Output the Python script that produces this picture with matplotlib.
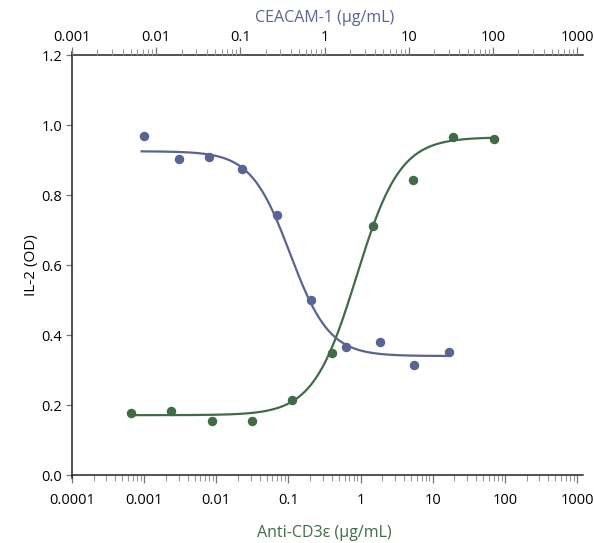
import matplotlib
matplotlib.use("Agg")
import matplotlib.pyplot as plt
import numpy as np
from matplotlib.ticker import LogLocator, FixedLocator, FuncFormatter, NullFormatter

plt.rcParams['font.family'] = ['Open Sans', 'DejaVu Sans']

# CEACAM-1 titration (top axis), ug/mL vs IL-2 OD
ceacam_conc = [0.0072, 0.0187, 0.042, 0.105, 0.27, 0.684, 1.80, 4.55, 11.7, 30.3]
ceacam_od = [0.969, 0.902, 0.908, 0.875, 0.743, 0.500, 0.365, 0.379, 0.314, 0.351]
# fitted 4PL curve as drawn (bottom, top, EC50, hill)
ceacam_fit = (0.340, 0.925, 0.39, 1.86)

# anti-CD3e titration (bottom axis)
cd3_conc = [0.00065, 0.00234, 0.00867, 0.031, 0.111, 0.404, 1.48, 5.31, 19.4, 69.7]
cd3_od = [0.178, 0.184, 0.154, 0.154, 0.214, 0.349, 0.711, 0.842, 0.967, 0.960]
cd3_fit = (0.171, 0.965, 0.88, 1.44)

blue = '#5a6492'
green = '#416b46'


def four_pl(x, bottom, top, ec50, hill):
    return bottom + (top - bottom) / (1 + (ec50 / x) ** hill)


fig = plt.figure(figsize=(5.94, 5.43), dpi=100)
ax = fig.add_axes([0.1212, 0.1252, 0.8502, 0.7735])
ax2 = ax.twiny()

# green curve + points on bottom axis
xs = np.logspace(np.log10(min(cd3_conc)), np.log10(max(cd3_conc)), 300)
ax.plot(xs, four_pl(xs, *cd3_fit), color=green, lw=1.6, zorder=2)
ax.plot(cd3_conc, cd3_od, 'o', color=green, ms=5.8, zorder=3)

# blue curve + points on top axis (decreasing)
xs2 = np.logspace(np.log10(min(ceacam_conc)) - 0.03, np.log10(max(ceacam_conc)) - 0.03, 300)
b, t, ec, h = ceacam_fit
ax2.plot(xs2, four_pl(xs2, t, b, ec, h), color=blue, lw=1.6, zorder=2)
ax2.plot(ceacam_conc, ceacam_od, 'o', color=blue, ms=5.8, zorder=3)

ax.set_xscale('log')
ax2.set_xscale('log')
ax.set_xlim(1e-4, 1e3)
ax2.set_xlim(1e-3, 1e3)
ax.set_ylim(0, 1.2)

fmt = FuncFormatter(lambda v, p: '%g' % v)
for a, lo in ((ax, -4), (ax2, -3)):
    a.xaxis.set_major_locator(FixedLocator(10.0 ** np.arange(lo, 4)))
    a.xaxis.set_major_formatter(fmt)
    a.xaxis.set_minor_locator(LogLocator(base=10, subs=np.arange(2, 10), numticks=20))
    a.xaxis.set_minor_formatter(NullFormatter())
    for s in a.spines.values():
        s.set_visible(False)

ax.set_yticks(np.arange(0, 1.21, 0.2))
ax.yaxis.set_major_formatter(FuncFormatter(lambda v, p: '%.1f' % v))

ax.tick_params(axis='x', which='major', direction='out', length=6, width=0.9,
               color='#777777', labelsize=10.5, pad=7)
ax.tick_params(axis='x', which='minor', direction='out', length=4, width=0.8,
               color='#999999')
ax2.tick_params(axis='x', which='major', direction='out', length=6, width=0.9,
                color='#777777', labelsize=10.5, pad=1)
ax2.tick_params(axis='x', which='minor', direction='out', length=4, width=0.8,
                color='#999999')
ax.tick_params(axis='y', direction='out', length=4, width=0.9, color='#777777',
               labelsize=10.5, pad=3)

# axis lines, drawn slightly past the ends like the original
line_kw = dict(transform=ax.transAxes, color='#222222', lw=1.1, clip_on=False, zorder=5)
ax.plot([0, 1.012], [0, 0], **line_kw)
ax.plot([0, 1.012], [1, 1], **line_kw)
ax.plot([0, 0], [-0.008, 1.008], **line_kw)

ax.set_ylabel('IL-2 (OD)', fontsize=11, labelpad=2)
ax.set_xlabel('Anti-CD3ε (µg/mL)', fontsize=11.5, color=green, labelpad=12)
ax2.set_xlabel('CEACAM-1 (µg/mL)', fontsize=11.5, color=blue, labelpad=6)

fig.savefig('out.png', dpi=100)
